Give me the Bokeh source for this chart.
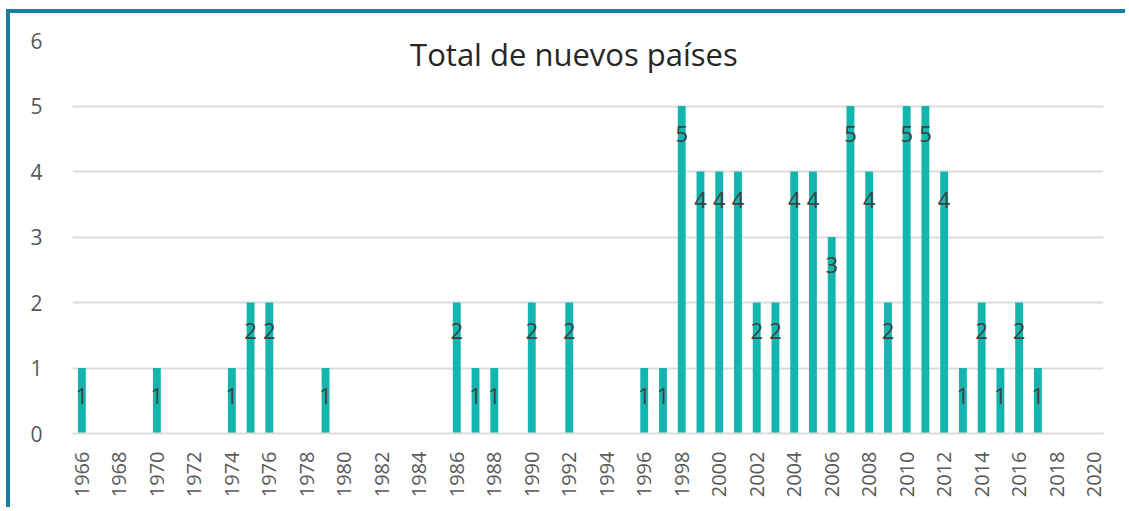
import math
from bokeh.plotting import figure
from bokeh.models import ColumnDataSource, FixedTicker, Range1d, Label
from bokeh.core.properties import value
from bokeh.embed import file_html
from bokeh.resources import INLINE

years = [1966, 1970, 1974, 1975, 1976, 1979, 1986, 1987, 1988, 1990, 1992,
         1996, 1997, 1998, 1999, 2000, 2001, 2002, 2003, 2004, 2005, 2006,
         2007, 2008, 2009, 2010, 2011, 2012, 2013, 2014, 2015, 2016, 2017]
counts = [1, 1, 1, 2, 2, 1, 2, 1, 1, 2, 2,
          1, 1, 5, 4, 4, 4, 2, 2, 4, 4, 3,
          5, 4, 2, 5, 5, 4, 1, 2, 1, 2, 1]
x_ticks = list(range(1966, 2021, 2))
y_ticks = [0, 1, 2, 3, 4, 5, 6]
title_text = "Total de nuevos países"

FONT = "Open Sans"
BAR = "#12b6ae"
GRID = "#dcdcdc"

src = ColumnDataSource(dict(x=years, top=counts, lbl=[str(c) for c in counts]))

p = figure(width=1119, height=498, output_backend="svg", toolbar_location=None,
           x_range=Range1d(1965.5, 2020.5), y_range=Range1d(0, 6),
           min_border_left=62, min_border_right=26, min_border_top=27, min_border_bottom=78)
p.styles = {"border-top": "4px solid #17809c", "border-left": "4px solid #17809c",
            "margin-left": "6px", "margin-top": "9px"}
p.outline_line_color = None
p.background_fill_color = "white"
p.border_fill_color = "white"

p.vbar(x="x", top="top", width=0.42, bottom=0, source=src, fill_color=BAR, line_color=None)
p.text(x="x", y="top", text="lbl", source=src, y_offset=28,
       text_align="center", text_baseline="middle", text_font=value(FONT),
       text_font_size="22px", text_color="#404040")

p.xgrid.grid_line_color = None
p.ygrid.grid_line_color = GRID
p.ygrid.grid_line_width = 2
p.ygrid.ticker = FixedTicker(ticks=y_ticks)

p.xaxis.ticker = FixedTicker(ticks=x_ticks)
p.xaxis.major_label_orientation = math.pi / 2
p.xaxis.axis_line_color = GRID
p.xaxis.axis_line_width = 2
p.xaxis.major_tick_line_color = None
p.xaxis.minor_tick_line_color = None
p.xaxis.major_label_text_font = FONT
p.xaxis.major_label_text_font_size = "20px"
p.xaxis.major_label_text_color = "#595959"
p.xaxis.major_label_standoff = 12

p.yaxis.ticker = FixedTicker(ticks=y_ticks)
p.yaxis.axis_line_color = None
p.yaxis.major_tick_line_color = None
p.yaxis.minor_tick_line_color = None
p.yaxis.major_label_text_font = FONT
p.yaxis.major_label_text_font_size = "21px"
p.yaxis.major_label_text_color = "#595959"
p.yaxis.major_label_standoff = 24

p.add_layout(Label(x=1992.25, y=5.80, text=title_text, text_align="center",
                   text_baseline="middle", text_font=FONT, text_font_size="31px",
                   text_color="#262626"))

open("out.html", "w").write(file_html(p, INLINE))
